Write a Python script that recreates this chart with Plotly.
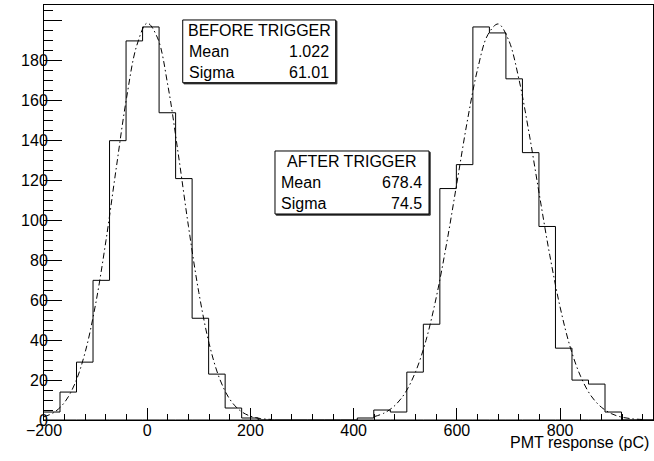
import plotly.graph_objects as go

FONT = "Liberation Sans, Arial, Helvetica, sans-serif"

# Histogram bin edges (pC), shared by both histograms
bin_edges = [-201, -169, -137, -105, -73, -41, -9, 23, 55, 87, 119, 151, 183,
             215, 247, 279, 311, 343, 375, 407, 439, 471, 503, 535, 567, 599,
             631, 663, 695, 727, 759, 791, 823, 855, 887, 919, 951, 983]

# Counts per bin
counts_before = [4, 14, 29, 70, 140, 190, 197, 154, 121, 51, 23, 6, 1,
                 0, 0, 0, 0, 0, 0, 0, 0, 0, 0, 0, 0, 0,
                 0, 0, 0, 0, 0, 0, 0, 0, 0, 0, 0]
counts_after = [0, 0, 0, 0, 0, 0, 0, 0, 0, 0, 0, 0, 0,
                0, 0, 0, 0, 0, 0, 1, 5, 4, 24, 48, 116, 128,
                197, 194, 171, 134, 97, 36, 20, 18, 4, 0, 0]

# Gaussian fit curves
fit_before_x = [-200, -180, -160, -140, -120, -100, -80, -60, -40, -20, 0, 20,
                40, 60, 80, 100, 120, 140, 160, 180, 200, 220, 240]
fit_before_y = [1.6, 3.9, 8.9, 18.3, 34.2, 58.1, 89.8, 126.3, 161.5, 187.9, 198.9, 191.5,
                167.7, 133.6, 96.9, 63.9, 38.3, 20.9, 10.4, 4.7, 1.9, 0.7, 0.3]
fit_after_x = [440, 460, 480, 500, 520, 540, 560, 580, 600, 620, 640, 660, 680,
               700, 720, 740, 760, 780, 800, 820, 840, 860, 880, 900, 920, 940, 960]
fit_after_y = [1.7, 3.6, 7.3, 13.7, 24.2, 39.8, 61.4, 88.3, 118.8, 149.5, 175.7, 193.1, 198.5,
               190.6, 171.1, 143.6, 112.6, 82.6, 56.6, 36.2, 21.7, 12.1, 6.4, 3.1, 1.4, 0.6, 0.25]

# Stats boxes
stats_before = {"title": "BEFORE TRIGGER", "Mean": "1.022", "Sigma": "61.01"}
stats_after = {"title": "AFTER TRIGGER", "Mean": "678.4", "Sigma": "74.5"}

y_tick_vals = [0, 20, 40, 60, 80, 100, 120, 140, 160, 180, 200]
y_tick_text = ["0", "20", "40", "60", "80", "100", "120", "140", "160", "180", ""]


def add_stats_box(fig, stats, x0, x1, y0, y1):
    """Draw a ROOT-like stats pave with title, Mean and Sigma rows"""
    # shadow + frame
    fig.add_shape(type="rect", xref="paper", yref="paper",
                  x0=x0 + 1.2 / 609, x1=x1 + 1.2 / 609, y0=y0 - 1.2 / 415, y1=y1 - 1.2 / 415,
                  line=dict(color="#333333", width=1), fillcolor="#333333", layer="above")
    fig.add_shape(type="rect", xref="paper", yref="paper",
                  x0=x0, x1=x1, y0=y0, y1=y1,
                  line=dict(color="black", width=1), fillcolor="white", layer="above")

    row_h = (y1 - y0) / 3
    pad_l = 4 / 609
    pad_r = 5 / 609
    fig.add_annotation(xref="paper", yref="paper", x=(x0 + x1) / 2, y=y1 - row_h / 2,
                       text=stats["title"], showarrow=False, xanchor="center", yanchor="middle",
                       font=dict(family=FONT, size=16, color="black"))
    for i, key in enumerate(["Mean", "Sigma"]):
        yc = y1 - row_h * (i + 1.5)
        fig.add_annotation(xref="paper", yref="paper", x=x0 + pad_l, y=yc,
                           text=key, showarrow=False, xanchor="left", yanchor="middle",
                           font=dict(family=FONT, size=16, color="black"))
        fig.add_annotation(xref="paper", yref="paper", x=x1 - pad_r, y=yc,
                           text=stats[key], showarrow=False, xanchor="right", yanchor="middle",
                           font=dict(family=FONT, size=16, color="black"))


def create_pmt_chart() -> go.Figure:
    """PMT response histograms before / after trigger with gaussian fits"""
    fig = go.Figure()

    for counts in (counts_before, counts_after):
        fig.add_trace(go.Scatter(
            x=bin_edges,
            y=counts + [counts[-1]],
            mode="lines",
            line=dict(color="black", width=1, shape="hv"),
            hoverinfo="skip"
        ))

    for fx, fy in ((fit_before_x, fit_before_y), (fit_after_x, fit_after_y)):
        fig.add_trace(go.Scatter(
            x=fx,
            y=fy,
            mode="lines",
            line=dict(color="black", width=1, dash="6px,3px,1.5px,3px", shape="spline"),
            hoverinfo="skip"
        ))

    add_stats_box(fig, stats_before, 0.2278, 0.4790, 0.8128, 0.9639)
    add_stats_box(fig, stats_after, 0.3793, 0.6322, 0.4964, 0.6482)

    fig.add_annotation(xref="paper", yref="paper", x=0.9962, y=-0.055,
                       text="PMT response (pC)", showarrow=False,
                       xanchor="right", yanchor="middle",
                       font=dict(family=FONT, size=16, color="black"))

    fig.update_layout(
        width=654,
        height=461,
        margin=dict(l=44, r=1, t=5, b=41, autoexpand=False),
        plot_bgcolor="white",
        paper_bgcolor="white",
        showlegend=False,
        font=dict(family=FONT, size=16, color="black"),
        xaxis=dict(
            range=[-200, 980], automargin=False,
            showline=True, mirror=True, linecolor="black", linewidth=1,
            showgrid=False, zeroline=False,
            tickmode="linear", tick0=-200, dtick=200,
            ticks="inside", ticklen=12, tickcolor="black", tickwidth=1,
            ticklabelstandoff=-4,
            minor=dict(ticks="inside", ticklen=6, dtick=40, tick0=-200,
                       tickcolor="black", tickwidth=1, showgrid=False),
            tickfont=dict(family=FONT, size=16, color="black")
        ),
        yaxis=dict(
            range=[0, 208], automargin=False,
            showline=True, mirror=True, linecolor="black", linewidth=1,
            showgrid=False, zeroline=False,
            tickmode="array", tickvals=y_tick_vals, ticktext=y_tick_text,
            ticks="inside", ticklen=18, tickcolor="black", tickwidth=1,
            ticklabelstandoff=-8,
            minor=dict(ticks="inside", ticklen=9, dtick=5, tick0=0,
                       tickcolor="black", tickwidth=1, showgrid=False),
            tickfont=dict(family=FONT, size=16, color="black")
        )
    )

    return fig


fig = create_pmt_chart()
# drop the default 8px body margin so the figure sits at the page corner
fig.write_html("out.html", config={"displayModeBar": False},
               post_script="document.body.style.margin = '0';")
